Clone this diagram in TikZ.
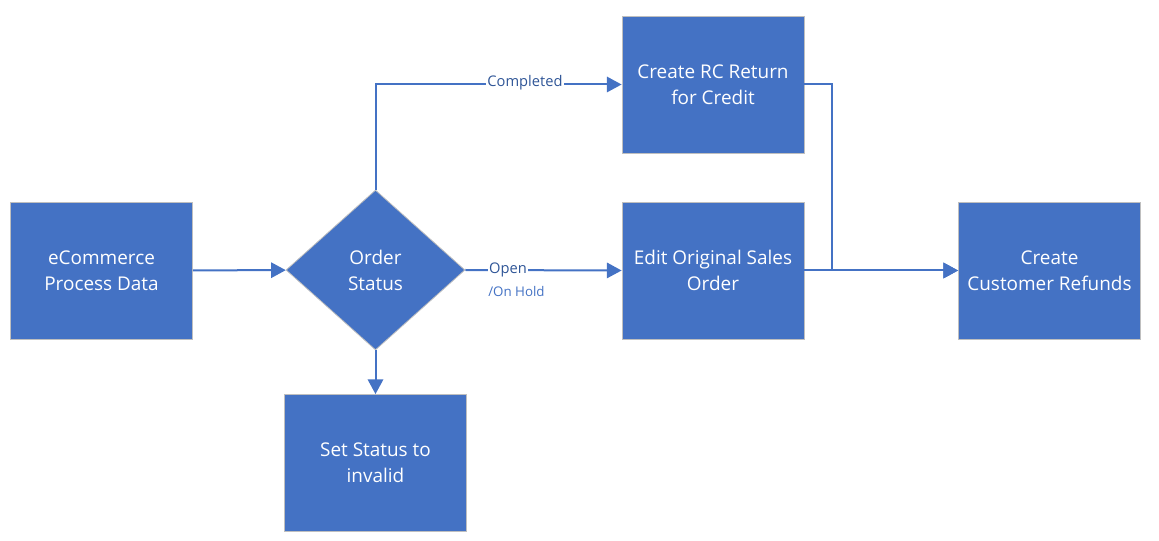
\documentclass[tikz,border=0pt]{standalone}
\usepackage{fontspec}
\setmainfont{Open Sans}
\usetikzlibrary{shapes.geometric,arrows.meta}
\definecolor{boxblue}{HTML}{4472C4}
\definecolor{labelblue}{HTML}{2F5597}
\tikzset{
  procbox/.style={draw=black!25, line width=0.6pt, fill=boxblue, text=white,
    minimum width=136.5pt, minimum height=102.75pt, align=center,
    font=\fontsize{14.2}{19.5}\selectfont, inner sep=0pt},
  decision/.style={diamond, draw=black!25, line width=0.6pt, fill=boxblue, text=white,
    minimum width=134.25pt, minimum height=120pt, align=center,
    font=\fontsize{14.2}{19.5}\selectfont, inner sep=0pt},
  flow/.style={draw=boxblue, line width=1.5pt, -{Triangle[length=11pt,width=11.5pt]}},
  edgelabel/.style={fill=white, text=labelblue, inner sep=1pt,
    font=\fontsize{11}{13}\selectfont},
}

\begin{document}
\begin{tikzpicture}[x=0.75pt,y=-0.75pt]
\useasboundingbox (0,0) rectangle (1159,541);
\node[procbox] (ecom) at (101.5,270.5) {eCommerce\\Process Data};
\node[decision] (status) at (375.5,270) {Order\\Status};
\node[procbox] (invalid) at (375.5,463) {Set Status to\\invalid};
\node[procbox] (rcreturn) at (713,84.5) {Create RC Return\\for Credit};
\node[procbox] (editorder) at (713,270.5) {Edit Original Sales\\Order};
\node[procbox] (refunds) at (1049.5,270.5) {Create\\Customer Refunds};
\coordinate (upbend) at (375.5,84.5);
\coordinate (joint) at (832,84.5);

\draw[flow] (ecom) -- (status);
\draw[flow] (status.south) -- (invalid.north);
\draw[flow] (status.north) -- (upbend) -- (rcreturn.west);
\draw[flow] (status.east) -- (editorder.west);
\draw[flow] (editorder.east) -- (refunds.west);
\draw[flow] (rcreturn.east) -- (joint) |- (refunds.west);

\node[edgelabel] (lblcompleted) at (525,83) {Completed};
\node[edgelabel] (lblopen) at (508,270) {Open};
\node[text=boxblue, inner sep=0pt, font=\fontsize{10}{12}\selectfont, anchor=west]
  (lblhold) at (488,292) {/On Hold};
\end{tikzpicture}
\end{document}
